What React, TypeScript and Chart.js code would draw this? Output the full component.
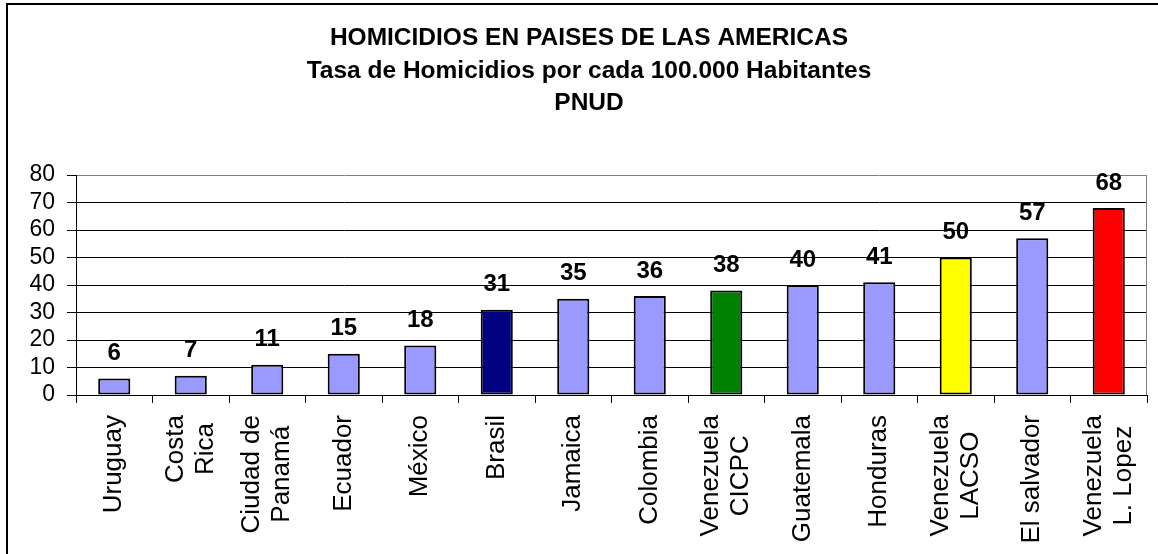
import React, { useEffect, useRef } from 'react';
import { Chart, registerables } from 'chart.js';

Chart.register(...registerables);

const titleLines = [
  'HOMICIDIOS EN PAISES DE LAS AMERICAS',
  'Tasa de Homicidios por cada 100.000 Habitantes',
  'PNUD',
];

const categories: (string | string[])[] = [
  'Uruguay',
  ['Costa', 'Rica'],
  ['Ciudad de', 'Panamá'],
  'Ecuador',
  'México',
  'Brasil',
  'Jamaica',
  'Colombia',
  ['Venezuela', 'CICPC'],
  'Guatemala',
  'Honduras',
  ['Venezuela', 'LACSO'],
  'El salvador',
  ['Venezuela', 'L. Lopez'],
];

const values = [6, 7, 11, 15, 18, 31, 35, 36, 38, 40, 41, 50, 57, 68];

const barColors = [
  '#9999FF', '#9999FF', '#9999FF', '#9999FF', '#9999FF',
  '#000080', '#9999FF', '#9999FF', '#008000', '#9999FF',
  '#9999FF', '#FFFF00', '#9999FF', '#FF0000',
];

const yMin = 0;
const yMax = 80;
const yStep = 10;

const FONT = '"Liberation Sans", Arial, Helvetica, sans-serif';
const CANVAS_W = 1162;
const CANVAS_H = 560;
const PLOT_LEFT = 68;
const PLOT_RIGHT = 1139;
const PLOT_BOTTOM = 390;

const centerLabelsPlugin = {
  id: 'centerLabels',
  beforeDraw(chart: any) {
    const sc: any = chart.scales.x;
    if (!sc || !sc.getLabelItems) return;
    const items = sc.getLabelItems();
    const ctx = chart.ctx;
    items.forEach((it: any) => {
      if (it._centered) return;
      it._centered = true;
      const lines = Array.isArray(it.label) ? it.label : [it.label];
      ctx.save();
      ctx.font = it.font.string;
      const w = Math.max(...lines.map((l: string) => ctx.measureText(l).width));
      ctx.restore();
      const lh = it.font.lineHeight;
      const tr = it.options.translation;
      it.options.textAlign = 'center';
      it.options.translation = [tr[0] - ((lines.length - 1) * lh) / 2, tr[1] + w / 2];
    });
  },
};

const plotBorderPlugin = {
  id: 'plotBorder',
  beforeDatasetsDraw(chart: any) {
    const { ctx, chartArea } = chart;
    ctx.save();
    ctx.strokeStyle = '#808080';
    ctx.lineWidth = 1;
    ctx.beginPath();
    ctx.moveTo(Math.round(chartArea.right) - 0.5, chartArea.top);
    ctx.lineTo(Math.round(chartArea.right) - 0.5, chartArea.bottom);
    ctx.stroke();
    ctx.restore();
  },
};

const valueLabelsPlugin = {
  id: 'valueLabels',
  afterDatasetsDraw(chart: any) {
    const { ctx } = chart;
    const meta = chart.getDatasetMeta(0);
    const data = chart.data.datasets[0].data;
    ctx.save();
    ctx.font = `bold 24px ${FONT}`;
    ctx.fillStyle = '#000';
    ctx.textAlign = 'center';
    ctx.textBaseline = 'alphabetic';
    meta.data.forEach((bar: any, i: number) => {
      ctx.fillText(String(data[i]), bar.x, bar.y - 18.5);
    });
    ctx.restore();
  },
};

export default function App() {
  const canvasRef = useRef<HTMLCanvasElement | null>(null);

  useEffect(() => {
    if (!canvasRef.current) return;
    Chart.defaults.font.family = FONT;
    Chart.defaults.color = '#000';
    const chart = new Chart(canvasRef.current, {
      type: 'bar',
      data: {
        labels: categories as any,
        datasets: [
          {
            data: values,
            backgroundColor: barColors,
            borderColor: '#000',
            borderWidth: 2,
            borderSkipped: false,
            barPercentage: 0.42,
            categoryPercentage: 1,
            yAxisID: 'y',
          },
        ],
      },
      options: {
        responsive: false,
        animation: false,
        layout: { padding: 0 },
        plugins: {
          legend: { display: false },
          tooltip: { enabled: false },
          title: {
            display: true,
            text: titleLines,
            color: '#000',
            font: { family: FONT, size: 24.5, weight: 'bold', lineHeight: 32.5 / 24.5 },
            padding: { top: 17, bottom: 55.5 },
          },
        },
        scales: {
          x: {
            offset: true,
            grid: {
              display: true,
              offset: true,
              drawOnChartArea: false,
              drawTicks: true,
              tickLength: 8,
              color: '#000',
              tickColor: '#000',
            },
            border: { display: true, color: '#000', width: 1 },
            ticks: {
              autoSkip: false,
              maxRotation: 90,
              minRotation: 90,
              padding: 12,
              color: '#000',
              font: { family: FONT, size: 26, lineHeight: 30 / 26 },
            },
            afterFit: (scale: any) => {
              scale.height = CANVAS_H - PLOT_BOTTOM;
              scale.paddingLeft = 0;
              scale.paddingRight = 0;
            },
          },
          y: {
            min: yMin,
            max: yMax,
            grid: {
              color: (c: any) => (c.tick && c.tick.value === yMax ? '#808080' : '#000'),
              tickColor: '#000',
              tickLength: 9,
              lineWidth: 1,
            },
            border: { display: true, color: '#000', width: 1 },
            ticks: {
              stepSize: yStep,
              autoSkip: false,
              padding: 12,
              color: '#000',
              font: { family: FONT, size: 23 },
            },
            afterFit: (scale: any) => {
              scale.width = PLOT_LEFT;
            },
          },
          yRight: {
            position: 'right',
            display: true,
            min: yMin,
            max: yMax,
            grid: { display: false, drawTicks: false },
            border: { display: false },
            ticks: { display: false },
            afterFit: (scale: any) => {
              scale.width = CANVAS_W - PLOT_RIGHT;
              scale.paddingTop = 0;
              scale.paddingBottom = 0;
            },
          },
        },
      },
      plugins: [centerLabelsPlugin, plotBorderPlugin, valueLabelsPlugin],
    } as any);
    return () => chart.destroy();
  }, []);

  return (
    <div
      style={{
        position: 'fixed',
        left: 0,
        top: 0,
        width: 1158,
        height: 554,
        overflow: 'hidden',
        background: '#fff',
      }}
    >
      <div
        style={{
          position: 'absolute',
          left: 6,
          top: 3,
          width: CANVAS_W + 4,
          height: CANVAS_H + 4,
          border: '2px solid #000',
          boxSizing: 'border-box',
        }}
      >
        <canvas
          ref={canvasRef}
          width={CANVAS_W}
          height={CANVAS_H}
          style={{ display: 'block', width: CANVAS_W, height: CANVAS_H }}
        />
      </div>
    </div>
  );
}
